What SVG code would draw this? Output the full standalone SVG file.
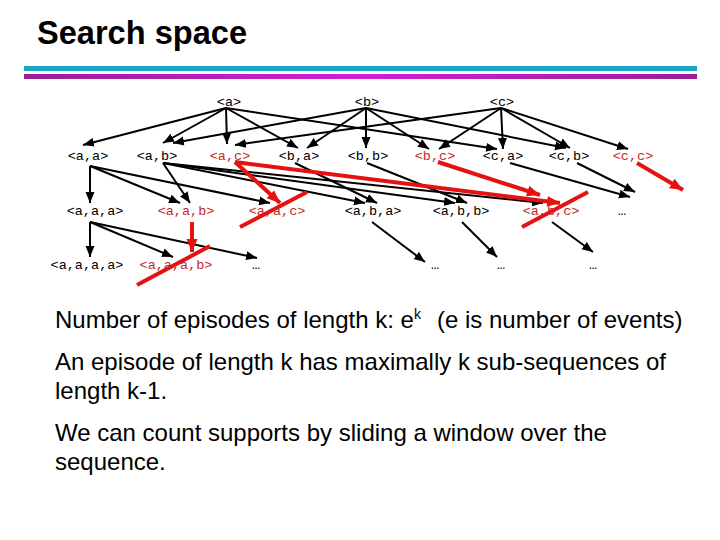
<svg xmlns="http://www.w3.org/2000/svg" width="720" height="540" viewBox="0 0 720 540">
<defs>
<style>
.n{font-family:"Liberation Mono","Courier New",monospace;font-size:13.5px;fill:#000;text-anchor:middle}
.r{fill:#c62828}
.e{stroke:#000;stroke-width:2;fill:none;marker-end:url(#ab)}
.re{stroke:#e41212;stroke-width:4;fill:none;marker-end:url(#ar)}
.x{stroke:#e41212;stroke-width:4;fill:none}
.t{font-family:"Liberation Sans",Arial,sans-serif;font-size:24px;fill:#000}
</style>
<marker id="ab" markerUnits="userSpaceOnUse" markerWidth="12" markerHeight="10" viewBox="0 0 12 10" refX="11" refY="5" orient="auto"><path d="M0,0.5 L11,5 L0,9.5 Z" fill="#000"/></marker>
<marker id="ar" markerUnits="userSpaceOnUse" markerWidth="14" markerHeight="12" viewBox="0 0 14 12" refX="13" refY="6" orient="auto"><path d="M0,0.5 L13,6 L0,11.5 Z" fill="#e41212"/></marker>
<linearGradient id="pg" x1="0" x2="1" y1="0" y2="0"><stop offset="0" stop-color="#9a1e96"/><stop offset="0.5" stop-color="#d21fd2"/><stop offset="1" stop-color="#9a1e96"/></linearGradient>
</defs>
<rect width="720" height="540" fill="#fff"/>
<text x="37" y="44" font-family="Liberation Sans,Arial,sans-serif" font-weight="bold" font-size="34" textLength="210" lengthAdjust="spacingAndGlyphs">Search space</text>
<rect x="24" y="66" width="673" height="5" fill="#1aa6c8"/>
<rect x="24" y="74" width="673" height="5" fill="url(#pg)"/>
<g id="connectors">
<path class="e" d="M226,108 L83,145"/>
<path class="e" d="M226,108 L163,143"/>
<path class="e" d="M226,108 L227,144"/>
<path class="e" d="M226,108 L298,148"/>
<path class="e" d="M226,108 L497,149"/>
<path class="e" d="M366,108 L173,143"/>
<path class="e" d="M366,108 L307,148"/>
<path class="e" d="M366,108 L366,148"/>
<path class="e" d="M366,108 L429,149"/>
<path class="e" d="M366,108 L566,148"/>
<path class="e" d="M501,108 L235,145"/>
<path class="e" d="M501,108 L439,149"/>
<path class="e" d="M501,108 L503,149"/>
<path class="e" d="M501,108 L570,148"/>
<path class="e" d="M501,108 L628,149"/>
<path class="e" d="M90,166 L90,203"/>
<path class="e" d="M90,166 L180,203"/>
<path class="e" d="M90,166 L270,203"/>
<path class="e" d="M163,163 L190,203"/>
<path class="e" d="M163,163 L365,203"/>
<path class="e" d="M163,163 L455,203"/>
<path class="e" d="M163,163 L543,203"/>
<path class="e" d="M295,163 L377,203"/>
<path class="e" d="M367,163 L467,203"/>
<path class="e" d="M510,163 L630,197"/>
<path class="e" d="M577,163 L635,192"/>
<path class="re" d="M235,162 L280,203"/>
<path class="re" d="M235,162 L560,203"/>
<path class="re" d="M438,162 L540,195"/>
<path class="re" d="M637,163 L683,190"/>
<path class="e" d="M90,222 L90,257"/>
<path class="e" d="M90,222 L173,257"/>
<path class="e" d="M90,222 L257,258"/>
<path class="e" d="M372,222 L425,262"/>
<path class="e" d="M462,222 L497,257"/>
<path class="e" d="M552,222 L593,252"/>
<path class="re" d="M192,222 L192,252"/>
<path class="x" d="M240,227 L307,192"/>
<path class="x" d="M522,227 L588,192"/>
<path class="x" d="M137,285 L210,246"/>
</g>
<g id="n_a"><text class="n" x="229" y="106">&lt;a&gt;</text></g>
<g id="n_b"><text class="n" x="367" y="106">&lt;b&gt;</text></g>
<g id="n_c"><text class="n" x="502" y="106">&lt;c&gt;</text></g>
<g id="n_aa"><text class="n" x="88" y="160">&lt;a,a&gt;</text></g>
<g id="n_ab"><text class="n" x="157" y="160">&lt;a,b&gt;</text></g>
<g id="n_ac"><text class="n r" x="230" y="160">&lt;a,c&gt;</text></g>
<g id="n_ba"><text class="n" x="299" y="160">&lt;b,a&gt;</text></g>
<g id="n_bb"><text class="n" x="368" y="160">&lt;b,b&gt;</text></g>
<g id="n_bc"><text class="n r" x="435" y="160">&lt;b,c&gt;</text></g>
<g id="n_ca"><text class="n" x="503" y="160">&lt;c,a&gt;</text></g>
<g id="n_cb"><text class="n" x="569" y="160">&lt;c,b&gt;</text></g>
<g id="n_cc"><text class="n r" x="633" y="160">&lt;c,c&gt;</text></g>
<g id="n_aaa"><text class="n" x="95" y="215">&lt;a,a,a&gt;</text></g>
<g id="n_aab"><text class="n r" x="186" y="215">&lt;a,a,b&gt;</text></g>
<g id="n_aac"><text class="n r" x="277" y="215">&lt;a,a,c&gt;</text></g>
<g id="n_aba"><text class="n" x="373" y="215">&lt;a,b,a&gt;</text></g>
<g id="n_abb"><text class="n" x="461" y="215">&lt;a,b,b&gt;</text></g>
<g id="n_abc"><text class="n r" x="551" y="215">&lt;a,b,c&gt;</text></g>
<g id="n_l3more"><text class="n" x="622" y="215">…</text></g>
<g id="n_aaaa"><text class="n" x="87" y="269">&lt;a,a,a,a&gt;</text></g>
<g id="n_aaab"><text class="n r" x="176" y="269">&lt;a,a,a,b&gt;</text></g>
<g id="n_l4m1"><text class="n" x="256" y="269">…</text></g>
<g id="n_l4m2"><text class="n" x="435" y="269">…</text></g>
<g id="n_l4m3"><text class="n" x="501" y="269">…</text></g>
<g id="n_l4m4"><text class="n" x="593" y="269">…</text></g>
<g id="body">
<text class="t" x="55" y="328">Number of episodes of length k: e<tspan font-size="14" dy="-9">k</tspan><tspan x="437" dy="9">(e is number of events)</tspan></text>
<text class="t" x="55" y="370">An episode of length k has maximally k sub-sequences of</text>
<text class="t" x="55" y="399">length k-1.</text>
<text class="t" x="55" y="441">We can count supports by sliding a window over the</text>
<text class="t" x="55" y="470">sequence.</text>
</g>
</svg>
